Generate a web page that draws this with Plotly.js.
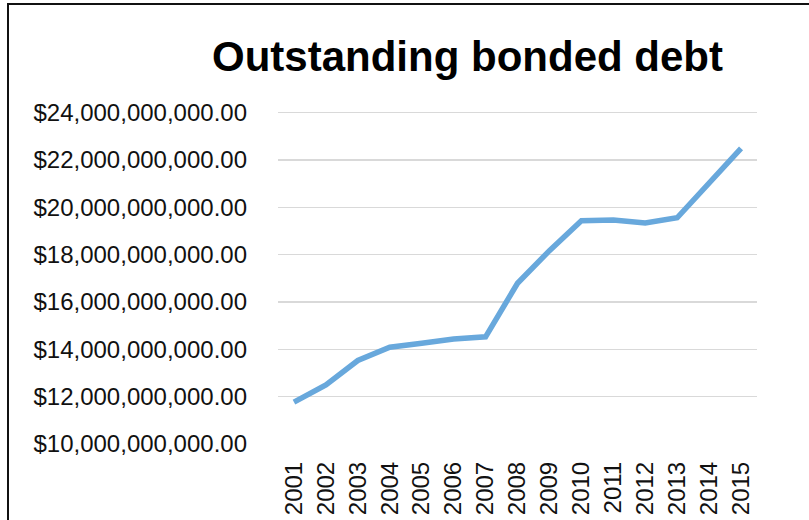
<!DOCTYPE html>
<html>
<head>
<meta charset="utf-8">
<script src="https://cdn.plot.ly/plotly-3.0.1.min.js"></script>
<style>
  html, body { margin: 0; padding: 0; background: #fff; }
  #wrap { position: relative; width: 809px; height: 520px; overflow: hidden; }
  #chart { position: absolute; left: 0; top: 0; width: 809px; height: 520px; }
  #frame { position: absolute; left: 7px; top: 3px; width: 900px; height: 600px;
           border-top: 2px solid #111; border-left: 2px solid #111; pointer-events: none; }
</style>
</head>
<body>
<div id="wrap">
  <div id="chart"></div>
  <div id="frame"></div>
</div>
<script>
const chartTitle = "Outstanding bonded debt";
const years = ["2001","2002","2003","2004","2005","2006","2007","2008","2009","2010","2011","2012","2013","2014","2015"];
const debt = [11.77e9, 12.50e9, 13.53e9, 14.09e9, 14.26e9, 14.44e9, 14.53e9, 16.79e9, 18.17e9, 19.43e9, 19.46e9, 19.34e9, 19.56e9, 21.01e9, 22.49e9];
const yTicks = [10e9, 12e9, 14e9, 16e9, 18e9, 20e9, 22e9, 24e9];

const trace = {
  x: years,
  y: debt,
  type: "scatter",
  mode: "lines",
  line: { color: "#68A8DC", width: 5.5 },
  hoverinfo: "skip"
};

const layout = {
  width: 809,
  height: 520,
  margin: { l: 278, r: 52, t: 111, b: 76 },
  paper_bgcolor: "rgba(0,0,0,0)",
  plot_bgcolor: "#fff",
  showlegend: false,
  font: { family: "Liberation Sans, Arial, sans-serif", color: "#111", size: 24 },
  title: {
    text: "<b>" + chartTitle + "</b>",
    font: { family: "Liberation Sans, Arial, sans-serif", size: 42, color: "#000" },
    xref: "container", yref: "container",
    x: 467.5 / 809, xanchor: "center",
    y: 1 - 56 / 520, yanchor: "middle"
  },
  xaxis: {
    type: "category",
    range: [-0.5, 14.5],
    tickangle: -90,
    ticks: "",
    showgrid: false,
    showline: false,
    zeroline: false,
    ticklabelstandoff: 12,
    tickfont: { size: 24, color: "#111" }
  },
  yaxis: {
    range: [10e9, 24.07e9],
    autorange: false,
    tickmode: "array",
    tickvals: yTicks,
    tickformat: "$,.2f",
    ticks: "",
    showgrid: true,
    gridcolor: "#d9d9d9",
    gridwidth: 1.5,
    zeroline: false,
    showline: false,
    ticklabelstandoff: 30,
    tickfont: { size: 24, color: "#111" }
  }
};

Plotly.newPlot("chart", [trace], layout, { staticPlot: true, displayModeBar: false });
</script>
</body>
</html>
